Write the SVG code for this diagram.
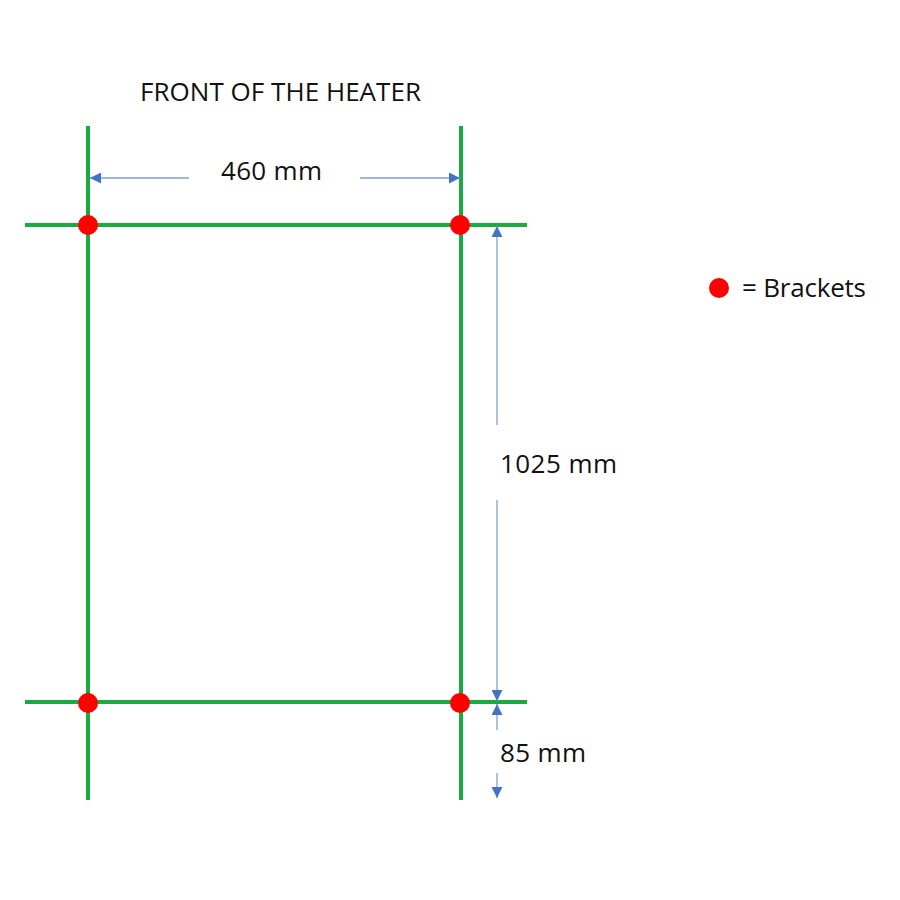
<svg xmlns="http://www.w3.org/2000/svg" width="900" height="900" viewBox="0 0 900 900">
<style>
.g{stroke:#1aab40;stroke-width:4;fill:none}
.d{stroke:#7f9fd6;stroke-width:1.3;fill:none}
.b{fill:#ff0000}
text{font-family:"Open Sans","Liberation Sans",sans-serif;font-size:26px;fill:#111}
</style>
<defs>
<marker id="ah" viewBox="0 0 10 10" refX="10" refY="5" markerWidth="11" markerHeight="11" markerUnits="userSpaceOnUse" orient="auto">
<path d="M0,0 L10,5 L0,10 Z" fill="#4472c4"/>
</marker>
</defs>
<rect width="900" height="900" fill="#fff"/>
<g id="frame">
<line class="g" x1="88" y1="126" x2="88" y2="800"/>
<line class="g" x1="461" y1="126" x2="461" y2="800"/>
<line class="g" x1="25" y1="225" x2="527" y2="225"/>
<line class="g" x1="25" y1="702" x2="527" y2="702"/>
</g>
<g id="brackets">
<circle class="b" cx="88" cy="225" r="10"/>
<circle class="b" cx="460" cy="225" r="10"/>
<circle class="b" cx="88" cy="703" r="10"/>
<circle class="b" cx="460" cy="703" r="10"/>
</g>
<g id="connectors">
<line class="d" x1="189" y1="178" x2="90" y2="178" marker-end="url(#ah)"/>
<line class="d" x1="360" y1="178" x2="460" y2="178" marker-end="url(#ah)"/>
<line class="d" x1="497" y1="425" x2="497" y2="226" marker-end="url(#ah)"/>
<line class="d" x1="497" y1="500" x2="497" y2="701" marker-end="url(#ah)"/>
<line class="d" x1="497" y1="730" x2="497" y2="704" marker-end="url(#ah)"/>
<line class="d" x1="497" y1="773" x2="497" y2="798" marker-end="url(#ah)"/>
</g>
<g id="labels">
<text x="140" y="101" font-size="24" textLength="281">FRONT OF THE HEATER</text>
<text x="221" y="180" textLength="101">460 mm</text>
<text x="500" y="473" textLength="117">1025 mm</text>
<text x="500" y="762" textLength="86">85 mm</text>
</g>
<g id="legend">
<circle class="b" cx="719" cy="288" r="10"/>
<text x="742" y="297" textLength="124">= Brackets</text>
</g>
</svg>
